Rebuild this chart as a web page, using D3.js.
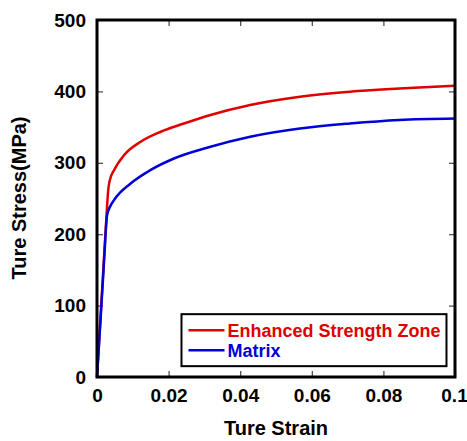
<!DOCTYPE html>
<html>
<head>
<script src="https://d3js.org/d3.v7.min.js"></script>
<style>
  body { margin: 0; background: #fff; }
  text { font-family: Arial, "Liberation Sans", sans-serif; font-weight: bold; }
</style>
</head>
<body>
<div id="chart"></div>
<script>
// data
const redStrain = [0, 0.001, 0.002, 0.0028, 0.00314, 0.0036, 0.0048, 0.0076, 0.0122, 0.0178, 0.0243, 0.0317, 0.0428, 0.0567, 0.0706, 0.0844, 0.1];
const redStress = [0, 85, 170, 238, 262, 276, 290, 311, 329.5, 343.5, 355, 367, 381, 392.6, 399.6, 404, 408];
const blueStrain = [0, 0.001, 0.002, 0.0028, 0.0035, 0.0048, 0.0094, 0.015, 0.0215, 0.0317, 0.0428, 0.0567, 0.0706, 0.0844, 0.1];
const blueStress = [0, 81, 165, 226, 237, 248, 271, 290, 306, 322.5, 336.5, 348, 355, 360, 362];
const xTicks = [0, 0.02, 0.04, 0.06, 0.08, 0.1];
const yTicks = [0, 100, 200, 300, 400, 500];
const seriesNames = ['Enhanced Strength Zone', 'Matrix'];
const seriesColors = ['#e00000', '#0000d8'];

const W = 467, H = 441;
const m = { left: 97, right: 12, top: 20, bottom: 64 };
const w = W - m.left - m.right, h = H - m.top - m.bottom;

const svg = d3.select('#chart').append('svg').attr('width', W).attr('height', H);
const g = svg.append('g').attr('transform', 'translate(' + m.left + ',' + m.top + ')');

const x = d3.scaleLinear().domain([0, 0.1]).range([0, w]);
const y = d3.scaleLinear().domain([0, 500]).range([h, 0]);

// inward ticks on all four sides
const tickLen = 6;
g.append('g').attr('transform', 'translate(0,' + h + ')')
  .call(d3.axisBottom(x).tickValues(xTicks).tickSizeInner(-tickLen).tickSizeOuter(0).tickPadding(12)
    .tickFormat(d => d === 0 ? '0' : (d === 0.1 ? '0.1' : d3.format('.2f')(d))));
g.append('g')
  .call(d3.axisLeft(y).tickValues(yTicks).tickSizeInner(-tickLen).tickSizeOuter(0).tickPadding(11));
g.append('g')
  .call(d3.axisTop(x).tickValues(xTicks).tickSizeInner(-tickLen).tickSizeOuter(0).tickFormat(''));
g.append('g').attr('transform', 'translate(' + w + ',0)')
  .call(d3.axisRight(y).tickValues(yTicks).tickSizeInner(-tickLen).tickSizeOuter(0).tickFormat(''));

g.selectAll('.domain').remove();
g.selectAll('.tick line').attr('stroke', '#444').attr('stroke-width', 1.2);
g.selectAll('.tick text').attr('font-size', 19).attr('fill', '#000')
  .attr('font-family', 'Arial, "Liberation Sans", sans-serif').attr('font-weight', 'bold');
// last x label sits right at the page edge
g.selectAll('.tick text').filter(d => d === 0.1).attr('dx', -1);

// curves
const line = d3.line().x(d => x(d[0])).y(d => y(d[1])).curve(d3.curveMonotoneX);
const series = [
  d3.zip(redStrain, redStress),
  d3.zip(blueStrain, blueStress)
];
series.forEach((s, i) => {
  g.append('path').datum(s).attr('d', line)
    .attr('fill', 'none').attr('stroke', seriesColors[i]).attr('stroke-width', 2.5);
});

// frame
g.append('rect').attr('width', w).attr('height', h)
  .attr('fill', 'none').attr('stroke', '#000').attr('stroke-width', 3);

// legend
const lg = g.append('g').attr('transform', 'translate(' + x(0.0236) + ',' + y(88) + ')');
lg.append('rect').attr('width', 265).attr('height', 52)
  .attr('fill', '#fff').attr('stroke', '#000').attr('stroke-width', 2);
seriesNames.forEach((name, i) => {
  const yy = 16 + i * 20;
  lg.append('line').attr('x1', 7).attr('x2', 43).attr('y1', yy).attr('y2', yy)
    .attr('stroke', seriesColors[i]).attr('stroke-width', 2.5);
  lg.append('text').attr('x', 46).attr('y', yy).attr('dy', '0.36em')
    .attr('font-size', 18).attr('fill', seriesColors[i]).text(name);
});

// axis titles
svg.append('text').attr('x', m.left + w / 2).attr('y', 435)
  .attr('text-anchor', 'middle').attr('font-size', 20).text('Ture Strain');
svg.append('text').attr('transform', 'translate(26,' + 198 + ') rotate(-90)')
  .attr('text-anchor', 'middle').attr('font-size', 20).text('Ture Stress(MPa)');
</script>
</body>
</html>
